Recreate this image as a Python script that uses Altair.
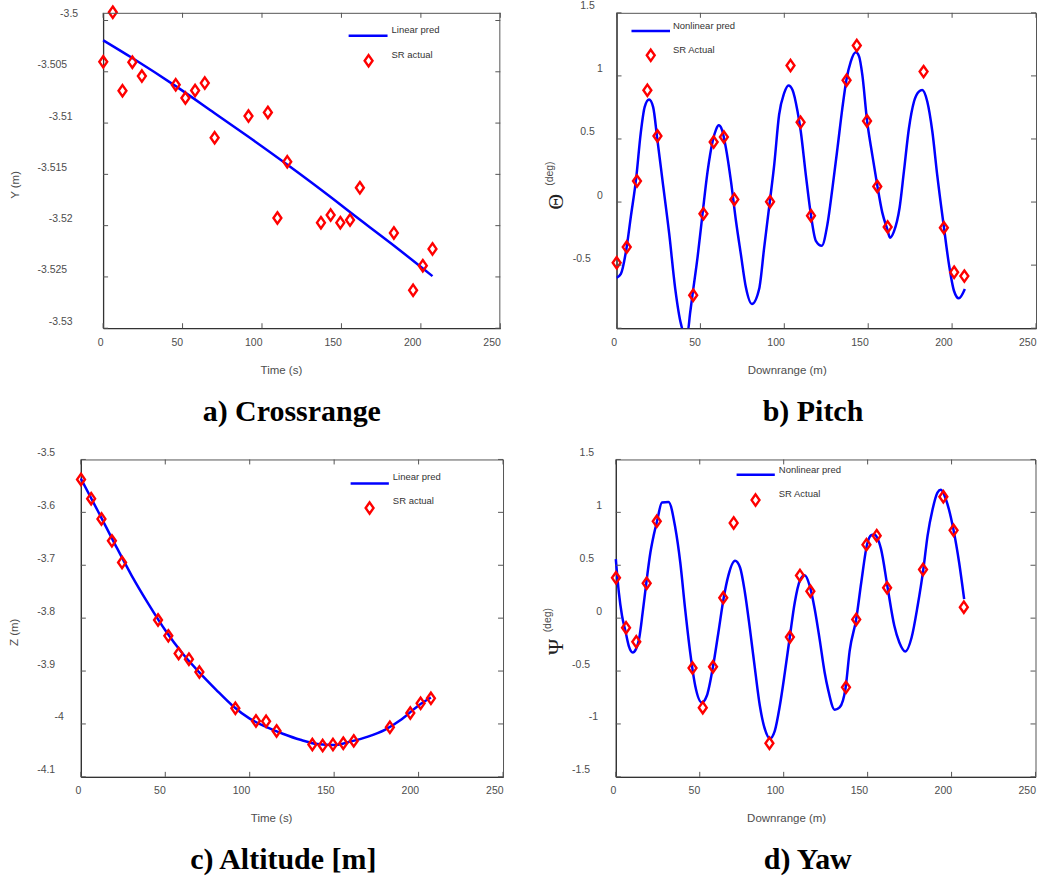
import altair as alt
import pandas as pd

# ---------------------------------------------------------------------------
# Data
# ---------------------------------------------------------------------------
# sample stations shared by the four panels
STATIONS = [0.1, 6.1, 12.2, 18.4, 24.4, 45.7, 51.8, 57.9, 64.0, 70.2, 91.5, 103.7,
            109.7, 115.9, 137.1, 143.2, 149.3, 155.4, 161.6, 183.0, 195.1, 201.2, 207.3]

# a) crossrange
CROSS_ACTUAL = [-3.50403, -3.49919, -3.50685, -3.50406, -3.50542, -3.50627, -3.50756,
                -3.50682, -3.50610, -3.51143, -3.50932, -3.50896, -3.51925, -3.51377,
                -3.51971, -3.51896, -3.51971, -3.51945, -3.51630, -3.52071, -3.52630,
                -3.52390, -3.52227]
CROSS_PRED_X = [0, 18.4, 45.7, 70.0, 91.7, 115.8, 144.0, 154.5, 181.7, 207.3]
CROSS_PRED = [-3.50192, -3.50366, -3.50640, -3.50901, -3.51136, -3.51404, -3.51731,
              -3.51858, -3.52179, -3.52492]

# b) pitch
PITCH_ACTUAL = [-0.481, -0.357, 0.167, 0.886, 0.524, -0.738, -0.093, 0.476, 0.516, 0.021,
                0.003, 1.082, 0.632, -0.108, 0.966, 1.241, 0.643, 0.124, -0.198, 1.034,
                -0.204, -0.556, -0.587]
PITCH_PRED_X = [0, 2.6, 5.9, 8.5, 11.8, 14.4, 16.8, 19.4, 21.8, 24.4, 27.4, 31.4, 35.0,
                38.4, 40.0, 42.4, 43.8, 45.4, 48.4, 51.3, 54.3, 57.3, 59.3, 60.9, 62.8,
                65.2, 68.2, 71.2, 74.1, 77.1, 80.7, 85.0, 88.0, 91.4, 94.0, 96.9, 99.9,
                102.5, 104.9, 107.9, 109.8, 112.8, 115.8, 118.8, 122.3, 125.7, 128.7,
                131.7, 134.6, 137.0, 139.6, 142.6, 144.6, 146.5, 149.3, 152.4, 155.4,
                158.4, 161.4, 163.0, 165.3, 168.7, 171.3, 174.3, 177.3, 180.2, 182.2,
                185.2, 188.2, 191.1, 195.1, 198.1, 201.1, 204.0, 207.6]
PITCH_PRED = [-0.60, -0.569, -0.37, -0.119, 0.198, 0.542, 0.754, 0.812, 0.754, 0.489,
              0.172, -0.251, -0.688, -0.966, -1.03, -1.03, -0.887, -0.724, -0.426, -0.089,
              0.245, 0.482, 0.574, 0.608, 0.574, 0.429, 0.166, -0.15, -0.413, -0.676,
              -0.808, -0.689, -0.361, 0.008, 0.297, 0.692, 0.863, 0.924, 0.889, 0.718,
              0.561, 0.218, -0.097, -0.308, -0.347, -0.176, 0.113, 0.429, 0.745, 0.968,
              1.113, 1.187, 1.153, 1.008, 0.647, 0.376, 0.132, -0.084, -0.216, -0.282,
              -0.234, -0.045, 0.245, 0.587, 0.797, 0.876, 0.889, 0.797, 0.561, 0.218,
              -0.197, -0.492, -0.703, -0.763, -0.689]

# c) altitude
ALT_ACTUAL = [-3.5377, -3.5741, -3.6124, -3.6539, -3.6947, -3.8034, -3.8335, -3.8668,
              -3.8775, -3.9020, -3.9705, -3.9943, -3.9950, -4.0132, -4.0389, -4.0408,
              -4.0389, -4.0364, -4.0320, -4.0063, -3.9793, -3.9610, -3.9516]
ALT_PRED_X = [0, 10, 20, 30, 40, 50, 60, 70, 80, 90, 100, 110, 120, 130, 140, 150, 160,
              170, 180, 190, 200, 207.3]
ALT_PRED = [-3.536, -3.597, -3.659, -3.719, -3.773, -3.823, -3.866, -3.902, -3.935,
            -3.966, -3.990, -4.006, -4.019, -4.030, -4.038, -4.040, -4.033, -4.024,
            -4.011, -3.991, -3.965, -3.950]

# d) yaw
YAW_ACTUAL = [0.381, -0.091, -0.223, 0.330, 0.915, -0.472, -0.846, -0.459, 0.192, 0.900,
              -1.182, -0.179, 0.403, 0.255, -0.654, -0.012, 0.695, 0.780, 0.287, 0.459,
              1.148, 0.830, 0.104]
YAW_PRED_X = [0, 1.8, 3.7, 5.7, 7.7, 10.1, 12.0, 14.0, 16.0, 18.2, 20.6, 22.5, 24.5, 27.5,
              31.4, 35.4, 38.4, 41.3, 44.3, 47.3, 51.2, 54.2, 57.9, 61.1, 64.3, 67.0, 71.0,
              74.0, 76.9, 79.9, 82.9, 85.8, 88.8, 91.8, 94.7, 97.7, 100.7, 103.6, 106.6,
              109.6, 112.5, 115.5, 118.5, 121.4, 124.4, 126.4, 130.4, 133.3, 136.9, 139.3,
              143.2, 146.2, 149.7, 152.1, 154.1, 155.7, 158.0, 161.9, 165.9, 168.9, 172.5,
              176.2, 179.8, 183.2, 185.7, 188.7, 191.6, 193.6, 196.6, 201.2, 204.5, 207.5]
YAW_PRED = [0.557, 0.243, 0.022, -0.12, -0.261, -0.324, -0.293, -0.183, 0.054, 0.337, 0.62,
            0.778, 0.913, 1.093, 1.099, 0.857, 0.526, 0.085, -0.324, -0.639, -0.797, -0.734,
            -0.457, -0.135, 0.195, 0.4, 0.542, 0.479, 0.243, -0.104, -0.482, -0.828, -1.049,
            -1.137, -1.065, -0.828, -0.513, -0.183, 0.148, 0.353, 0.406, 0.306, 0.085,
            -0.198, -0.513, -0.671, -0.866, -0.844, -0.655, -0.309, -0.009, 0.337, 0.699,
            0.784, 0.79, 0.76, 0.652, 0.29, -0.072, -0.23, -0.315, -0.183, 0.117, 0.463,
            0.778, 1.03, 1.187, 1.213, 1.124, 0.831, 0.526, 0.18]

# axis ticks
X_TICKS = [0, 50, 100, 150, 200, 250]
CROSS_TICKS = [-3.53, -3.525, -3.52, -3.515, -3.51, -3.505, -3.5]
PITCH_TICKS = [-1, -0.5, 0, 0.5, 1, 1.5]
PITCH_LABELS = [-0.5, 0, 0.5, 1, 1.5]
ALT_TICKS = [-4.1, -4.0, -3.9, -3.8, -3.7, -3.6, -3.5]
YAW_TICKS = [-1.5, -1, -0.5, 0, 0.5, 1, 1.5]

# ---------------------------------------------------------------------------
# Styling
# ---------------------------------------------------------------------------
SANS = "Liberation Sans"
SERIF = "Liberation Serif"
GRAY = "#4d4d4d"
FRAME = "#333333"
TICK = "#555555"
BLUE = "#0000ff"
RED = "#ff0000"
DIAMOND = "M0,-1L0.7,0L0,1L-0.7,0Z"
TICK_LEN = 5
LINE_W = 2.5
MARK_W = 2.4


def one_row():
    return alt.Data(values=[{"k": 0}])


def panel(x_title, y_title, pred_x, pred_y, actual_y, y_domain, y_ticks, y_labels,
          width, height, x_off, extent, label_base, label_step, legend, caption,
          caption_dx, interpolate, clip_line=False, symbol_title=None, frame=False):
    """One framed panel; the plot rectangle starts x_off pixels into the group."""
    x0, x1 = x_off, x_off + width
    x_enc = alt.X(
        "x:Q",
        scale=alt.Scale(domain=[0, 250], range=[x0, x1], nice=False, zero=False),
        axis=alt.Axis(
            values=X_TICKS, title=x_title, grid=False, ticks=False, tickSize=0,
            labelAlign="right", labelFlush=False, labelOverlap=False, labelPadding=9,
            labelFont=SANS, labelFontSize=10.5, labelColor=GRAY,
            domainColor=FRAME, domainWidth=1.3,
            titleFont=SANS, titleFontSize=11.5, titleFontWeight="normal", titleColor=GRAY,
            titleAlign="right", titleX=x0 + width / 2, titleY=42, titleBaseline="middle",
        ),
    )
    y_enc = alt.Y(
        "y:Q",
        scale=alt.Scale(domain=y_domain, nice=False, zero=False),
        axis=alt.Axis(
            title=y_title, labels=False, grid=False, ticks=False, tickSize=0,
            domainColor=FRAME, domainWidth=1.3, offset=-x_off,
            minExtent=extent, maxExtent=extent, titlePadding=5,
            titleFont=SANS, titleFontSize=11.5, titleFontWeight="normal", titleColor=GRAY,
            titleAlign="right",
        ),
    )

    pred = pd.DataFrame({"x": pred_x, "y": pred_y})
    actual = pd.DataFrame({"x": STATIONS, "y": actual_y})

    line = alt.Chart(pred).mark_line(
        color=BLUE, strokeWidth=LINE_W, interpolate=interpolate, clip=clip_line
    ).encode(x=x_enc, y=y_enc)
    points = alt.Chart(actual).mark_point(
        shape=DIAMOND, size=128, filled=False, stroke=RED, strokeWidth=MARK_W, opacity=1
    ).encode(x=x_enc, y=y_enc)

    # inward tick marks on all four sides
    yt = pd.DataFrame({"y": y_ticks})
    xt = pd.DataFrame({"x": X_TICKS})
    rule = dict(color=TICK, strokeWidth=1)
    layers = [
        line,
        points,
        alt.Chart(yt).mark_rule(**rule).encode(
            x=alt.value(x0), x2=alt.value(x0 + TICK_LEN), y=y_enc),
        alt.Chart(yt).mark_rule(**rule).encode(
            x=alt.value(x1 - TICK_LEN), x2=alt.value(x1), y=y_enc),
        alt.Chart(xt).mark_rule(**rule).encode(
            x=x_enc, y=alt.value(height - TICK_LEN), y2=alt.value(height)),
        alt.Chart(xt).mark_rule(**rule).encode(
            x=x_enc, y=alt.value(0), y2=alt.value(TICK_LEN)),
    ]
    if frame:
        # top and right edges of the box (left/bottom are the axis lines)
        layers.append(alt.Chart(one_row()).mark_rule(color="#555555", strokeWidth=1).encode(
            x=alt.value(x0), x2=alt.value(x1), y=alt.value(0.5)))
        layers.append(alt.Chart(one_row()).mark_rule(color="#555555", strokeWidth=1).encode(
            x=alt.value(x1 - 0.5), y=alt.value(0), y2=alt.value(height)))

    # y tick labels, drawn a little above their ticks
    labels = pd.DataFrame({"y": y_labels, "label": [f"{v:g}" for v in y_labels]})
    labels["n"] = labels["label"].str.len()
    for n, grp in labels.groupby("n"):
        layers.append(
            alt.Chart(grp[["y", "label"]]).mark_text(
                align="right", baseline="middle", dy=-6.5, font=SANS, fontSize=10.5,
                color=GRAY,
            ).encode(x=alt.value(x0 + label_base - label_step * n), y=y_enc,
                     text="label:N"))

    # legend
    lg = legend
    layers.append(alt.Chart(one_row()).mark_rule(color=BLUE, strokeWidth=LINE_W).encode(
        x=alt.value(x0 + lg["line"][0]), x2=alt.value(x0 + lg["line"][1]),
        y=alt.value(lg["line"][2])))
    layers.append(alt.Chart(one_row()).mark_point(
        shape=DIAMOND, size=128, filled=False, stroke=RED, strokeWidth=MARK_W, opacity=1
    ).encode(x=alt.value(x0 + lg["mark"][0]), y=alt.value(lg["mark"][1])))
    for label, ty in zip(lg["labels"], lg["text_y"]):
        layers.append(alt.Chart(pd.DataFrame({"label": [label]})).mark_text(
            align="left", baseline="middle", font=SANS, fontSize=9.5, color="#333333"
        ).encode(x=alt.value(x0 + lg["text_x"]), y=alt.value(ty), text="label:N"))

    # Greek-letter y title: serif symbol with a small "(deg)" beside it
    if symbol_title is not None:
        sym, (sx, sy), (dx_, dy_) = symbol_title
        layers.append(alt.Chart(pd.DataFrame({"t": [sym]})).mark_text(
            angle=270, align="center", baseline="middle", font=SERIF, fontSize=22,
            color="#222222").encode(x=alt.value(x0 + sx), y=alt.value(sy), text="t:N"))
        layers.append(alt.Chart(pd.DataFrame({"t": ["(deg)"]})).mark_text(
            angle=270, align="center", baseline="middle", font=SANS, fontSize=10.5,
            color=GRAY).encode(x=alt.value(x0 + dx_), y=alt.value(dy_), text="t:N"))

    props = dict(
        width=x1, height=height,
        title=alt.TitleParams(
            caption, orient="bottom", anchor="middle", frame="group", dx=caption_dx,
            font=SERIF, fontSize=30, fontWeight="bold", color="#000000",
            offset=45, baseline="alphabetic",
        ),
    )
    if frame:
        props["view"] = alt.ViewBackground(stroke="transparent")
    return alt.layer(*layers).properties(**props)


crossrange = panel(
    "Time (s)", "Y (m)", CROSS_PRED_X, CROSS_PRED, CROSS_ACTUAL,
    [-3.53, -3.49925], CROSS_TICKS, CROSS_TICKS, 398, 316, 22.3, 78, -3, 5.5,
    {"line": [246, 285, 23], "mark": [266, 48], "text_x": 289, "text_y": [17, 42],
     "labels": ["Linear pred", "SR actual"]},
    "a) Crossrange", 1.2, "monotone", frame=True,
)

pitch = panel(
    "Downrange (m)", "", PITCH_PRED_X, PITCH_PRED, PITCH_ACTUAL,
    [-1, 1.5], PITCH_TICKS, PITCH_LABELS, 420.3, 316, 0, 40, -9.7, 4,
    {"line": [15, 53.6, 18.3], "mark": [34.3, 42.6], "text_x": 56.6, "text_y": [13, 37],
     "labels": ["Nonlinear pred", "SR Actual"]},
    "b) Pitch", -13.3, "monotone", clip_line=True,
    symbol_title=("\u0398", (-60.7, 189.3), (-66.9, 161.1)),
)

altitude = panel(
    "Time (s)", "Z (m)", ALT_PRED_X, ALT_PRED, ALT_ACTUAL,
    [-4.1, -3.5], ALT_TICKS, ALT_TICKS, 423, 318, 0, 56.4, -8.3, 4.35,
    {"line": [270.3, 308.6, 24], "mark": [289.3, 48.6], "text_x": 312.6, "text_y": [18, 42],
     "labels": ["Linear pred", "SR actual"]},
    "c) Altitude [m]", -8.7, "monotone",
)

yaw = panel(
    "Downrange (m)", "", YAW_PRED_X, YAW_PRED, YAW_ACTUAL,
    [-1.5, 1.5], YAW_TICKS, YAW_TICKS, 420.5, 318, 0, 40, -9.7, 4,
    {"line": [121, 159.3, 15.3], "mark": [140, 40.7], "text_x": 163.3, "text_y": [10.7, 34.7],
     "labels": ["Nonlinear pred", "SR Actual"]},
    "d) Yaw", -17.9, "monotone",
    symbol_title=("\u03a8", (-59.7, 187.7), (-67.7, 161)),
)

top_row = alt.hconcat(crossrange, pitch, spacing=115.7, bounds="flush")
bottom_row = alt.hconcat(altitude, yaw, spacing=113, bounds="flush")

chart = (
    alt.vconcat(top_row, bottom_row, spacing=20.5)
    .properties(padding={"left": 8, "top": 0, "right": 0, "bottom": 0}, background="white")
    .configure_view(stroke="#555555", strokeWidth=1)
)

chart.save("out.html", embed_options={"renderer": "svg", "actions": False})
